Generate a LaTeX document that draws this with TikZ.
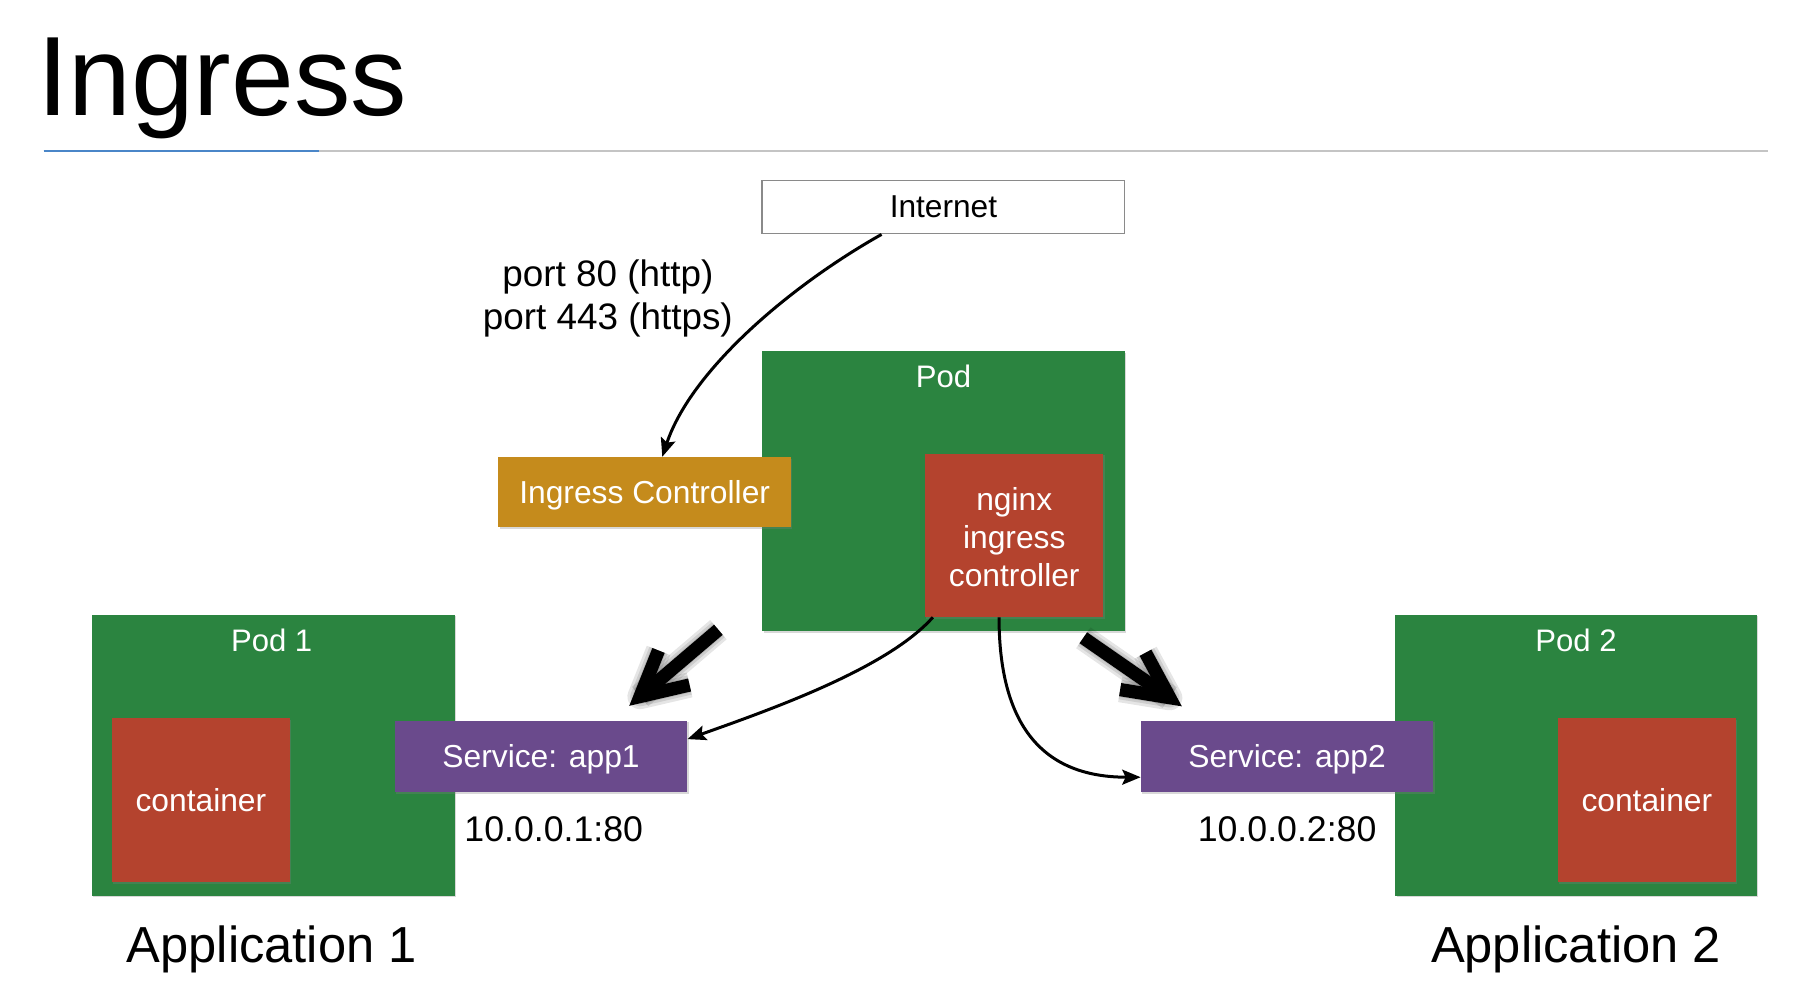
\documentclass[tikz,border=0pt]{standalone}
\usepackage{fontspec}
\setmainfont{Liberation Sans}
\usetikzlibrary{arrows.meta,calc,shadows}
\definecolor{podgreen}{HTML}{2B8440}
\definecolor{ctred}{HTML}{B4432E}
\definecolor{ctorange}{HTML}{C58B1C}
\definecolor{svcpurple}{HTML}{6A4A8C}
\definecolor{titleblue}{HTML}{4A86C8}
\definecolor{rulegray}{HTML}{C4C4C4}
\definecolor{inetgray}{HTML}{8A8A8A}
\newcommand{\fsz}[2]{\fontsize{#1}{#2}\selectfont}
\begin{document}
\begin{tikzpicture}[x=1pt,y=-1pt,
  box/.style={rectangle, inner sep=0pt, text=white, font=\fsz{27.6}{33}, align=center,
    drop shadow={shadow xshift=1.2pt,shadow yshift=-1.5pt,opacity=0.3}},
  capcenter/.style={text height=19.8pt, text depth=0pt},
  podbox/.style={box, fill=podgreen, minimum width=315pt, minimum height=244pt},
  ctbox/.style={box, fill=ctred, minimum width=155pt, minimum height=142pt},
  svcbox/.style={box, capcenter, fill=svcpurple, minimum width=254pt, minimum height=62pt},
  ctlbox/.style={box, capcenter, fill=ctorange, minimum width=254pt, minimum height=61pt},
  boxtext/.style={inner sep=0pt, text=white, font=\fsz{27.6}{33}, align=center},
  inetbox/.style={rectangle, inner sep=0pt, draw=inetgray, line width=1.2pt, fill=white,
    minimum width=315pt, minimum height=46pt, font=\fsz{27.5}{32}},
  podlbl/.style={inner sep=0pt, text=white, font=\fsz{27}{32}},
  lbl/.style={inner sep=0pt, text=black, font=\fsz{32}{37}, align=center},
  applbl/.style={inner sep=0pt, text=black, font=\fsz{44}{52}, text height=31.5pt, text depth=0pt},
  thinarrow/.style={line width=2.6pt, -{Stealth[length=16pt,width=13pt,inset=3pt]}},
  fatline/.style={line width=11.5pt, black, miter limit=20},
  fatshadow/.style={line width=#1, black, opacity=0.10, miter limit=20, line join=round}
]
\useasboundingbox (0,0) rectangle (1567,858);
\fill[white] (0,0) rectangle (1567,858);

% title
\node[inner sep=0pt, anchor=base west, font=\fsz{98}{110}] (title) at (32,100) {Ingress};
\coordinate (rulel) at (38,131);
\coordinate (ruler) at (1536,131);
\coordinate (blueend) at (277,131);
\draw[rulegray, line width=1.6pt] (rulel) -- (ruler);
\draw[titleblue, line width=2.2pt] (rulel) -- (blueend);

% boxes
\node[inetbox] (inet) at (819.5,180) {Internet};
\node[podbox, minimum height=243pt] (pod) at (819.5,426.5) {};
\node[podlbl] (podt) at (819.5,327) {Pod};
\node[ctbox] (nginx) at (881,465) {};
\node[boxtext] (nginxt) at (881,467) {nginx\\ingress\\controller};
\node[ctlbox] (ictl) at (560,427.5) {Ingress Controller};

\node[podbox] (pod1) at (237.5,656) {};
\node[podlbl] (pod1t) at (236,556) {Pod 1};
\node[ctbox] (cont1) at (174.5,695) {container};
\node[svcbox] (svc1) at (470,657) {Service: app1};

\node[podbox, minimum width=314pt] (pod2) at (1369,656) {};
\node[podlbl] (pod2t) at (1369,556) {Pod 2};
\node[ctbox] (cont2) at (1430.5,695) {container};
\node[svcbox] (svc2) at (1118,657) {Service: app2};

% labels
\node[lbl] (ports) at (528,259.5) {port 80 (http)\\port 443 (https)};
\node[lbl, font=\fsz{31}{37}] (ip1) at (481,720) {10.0.0.1:80};
\node[lbl, font=\fsz{31}{37}] (ip2) at (1118,720) {10.0.0.2:80};
\node[applbl] (app1) at (236,820) {Application 1};
\node[applbl] (app2) at (1369,820) {Application 2};

% thin connectors
\coordinate (s1) at ($(inet.south west)!0.33!(inet.south east)$);
\coordinate (e1) at ($(ictl.north west)!0.56!(ictl.north east)$);
\draw[thinarrow] (s1) .. controls ($(s1)+(-80,45)$) and ($(e1)+(25,-75)$) .. (e1);

\coordinate (s2) at ($(nginx.south west)!0.045!(nginx.south east)$);
\coordinate (e2) at ($(svc1.north east)!0.26!(svc1.south east)$);
\draw[thinarrow] (s2) .. controls ($(s2)+(-40,45)$) and ($(e2)+(70,-25)$) .. (e2);

\coordinate (s3) at ($(nginx.south west)!0.415!(nginx.south east)$);
\coordinate (e3) at ($(svc2.north west)!0.79!(svc2.south west)$);
\draw[thinarrow] (s3) .. controls ($(s3)+(0,100)$) and ($(e3)+(-80,0)$) .. (e3);

% fat arrows
\coordinate (la0) at (624,547);
\coordinate (lav) at (556,605);
\coordinate (laa) at (572,565);
\coordinate (lab) at (599,595);
\coordinate (ra0) at (941,554);
\coordinate (rav) at (1016,606);
\coordinate (raa) at (995,567);
\coordinate (rab) at (973,599);
\begin{scope}[shift={(4,7)}]
\foreach \w in {22pt,17pt,13pt}{
  \draw[fatshadow=\w] (la0) -- (lav);
  \draw[fatshadow=\w] (laa) -- (lav) -- (lab);
  \draw[fatshadow=\w] (ra0) -- (rav);
  \draw[fatshadow=\w] (raa) -- (rav) -- (rab);
}
\end{scope}
\draw[fatline] (la0) -- (lav);
\draw[fatline] (laa) -- (lav) -- (lab);
\draw[fatline] (ra0) -- (rav);
\draw[fatline] (raa) -- (rav) -- (rab);
\end{tikzpicture}
\end{document}
